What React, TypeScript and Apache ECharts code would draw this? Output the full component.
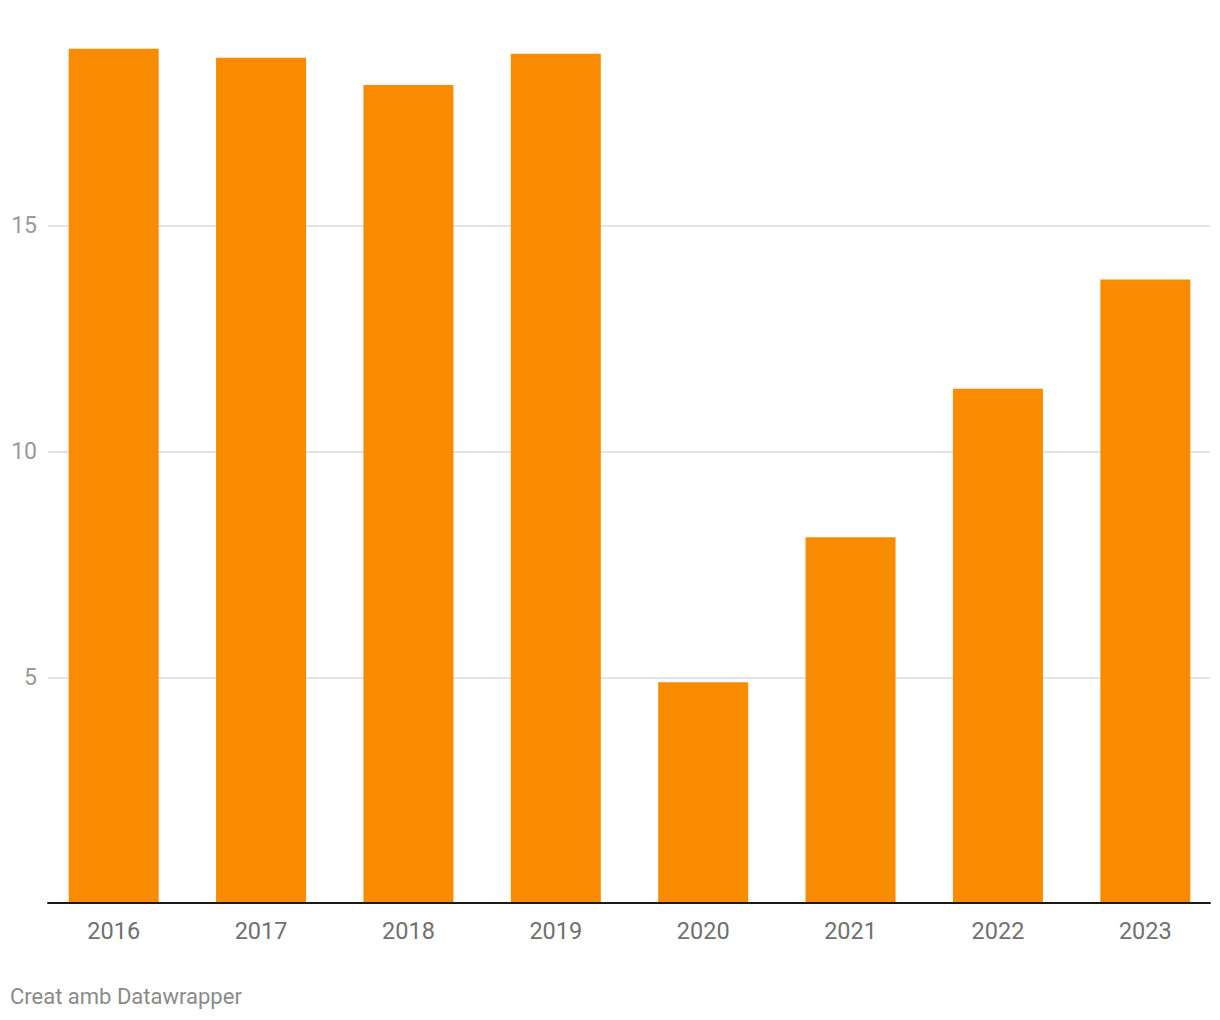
import React, { useEffect, useRef } from "react";
import * as echarts from "echarts";

const categories = ["2016", "2017", "2018", "2019", "2020", "2021", "2022", "2023"];
const values = [18.92, 18.72, 18.12, 18.81, 4.89, 8.1, 11.39, 13.81];
const footerText = "Creat amb Datawrapper";

export default function App() {
  const ref = useRef<HTMLDivElement>(null);
  useEffect(() => {
    if (!ref.current) return;
    const chart = echarts.init(ref.current, undefined, { renderer: "svg" });
    chart.setOption({
      animation: false,
      backgroundColor: "#ffffff",
      textStyle: { fontFamily: "Roboto" },
      grid: [
        { left: 40, right: 1, top: 0, bottom: 117, containLabel: false },
        { left: 48, right: 10, top: 0, bottom: 117, containLabel: false },
      ],
      xAxis: [
        {
          type: "category",
          gridIndex: 0,
          data: categories,
          axisLine: { show: false },
          axisTick: { show: false },
          axisLabel: { color: "#707070", fontSize: 23.5, margin: 16, fontFamily: "Roboto" },
        },
        {
          type: "value",
          gridIndex: 1,
          min: 0,
          max: 1,
          z: 5,
          axisLine: { show: true, onZero: false, lineStyle: { color: "#1a1a1a", width: 2 } },
          axisTick: { show: false },
          axisLabel: { show: false },
          splitLine: { show: false },
        },
      ],
      yAxis: [
        {
          type: "value",
          gridIndex: 0,
          min: 0,
          max: 20,
          axisLine: { show: false },
          axisTick: { show: false },
          axisLabel: { show: false },
          splitLine: { show: false },
        },
        {
          type: "value",
          gridIndex: 1,
          min: 0,
          max: 20,
          interval: 5,
          axisLine: { show: false },
          axisTick: { show: false },
          axisLabel: {
            color: "#9a9a9a",
            fontSize: 23,
            margin: 11,
            fontFamily: "Roboto",
            showMinLabel: false,
            showMaxLabel: false,
          },
          splitLine: {
            show: true,
            showMinLine: false,
            showMaxLine: false,
            lineStyle: { color: "#e3e3e3", width: 2 },
          },
        },
      ],
      series: [
        {
          type: "bar",
          xAxisIndex: 0,
          yAxisIndex: 0,
          data: values,
          barWidth: 90,
          itemStyle: { color: "#F98B00" },
        },
      ],
      graphic: [
        {
          type: "text",
          left: 10,
          top: 985,
          style: {
            text: footerText,
            fill: "#8a8a8a",
            fontSize: 22,
            fontFamily: "Roboto",
          },
        },
      ],
    });
    return () => chart.dispose();
  }, []);
  return (
    <div
      ref={ref}
      style={{ position: "fixed", left: 0, top: 0, width: 1220, height: 1020, background: "#fff" }}
    />
  );
}
